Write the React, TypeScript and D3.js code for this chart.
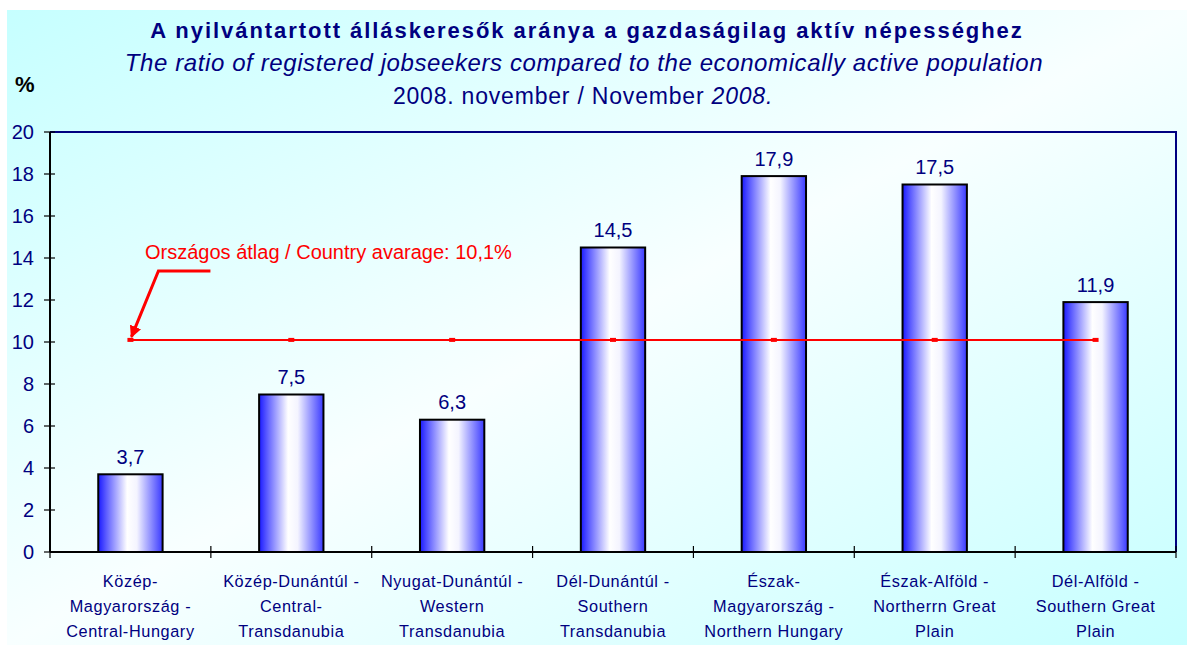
import React from "react";
import * as d3 from "d3";

const categoryLabels: string[][] = [
  ["Közép-", "Magyarország -", "Central-Hungary"],
  ["Közép-Dunántúl -", "Central-", "Transdanubia"],
  ["Nyugat-Dunántúl -", "Western", "Transdanubia"],
  ["Dél-Dunántúl -", "Southern", "Transdanubia"],
  ["Észak-", "Magyarország -", "Northern Hungary"],
  ["Észak-Alföld -", "Northerrn Great", "Plain"],
  ["Dél-Alföld -", "Southern Great", "Plain"],
];
const values: number[] = [3.7, 7.5, 6.3, 14.5, 17.9, 17.5, 11.9];
const countryAverage: number[] = [10.1, 10.1, 10.1, 10.1, 10.1, 10.1, 10.1];
const yTicks: number[] = [0, 2, 4, 6, 8, 10, 12, 14, 16, 18, 20];

const titleHu = "A nyilvántartott álláskeresők aránya a gazdaságilag aktív népességhez";
const titleEn = "The ratio of registered jobseekers compared to the economically active population";
const avgLabel = "Országos átlag / Country avarage: 10,1%";

const W = 1187;
const H = 645;
const plot = { left: 50, right: 1176, top: 132, bottom: 552 };
const NAVY = "#000080";
const FONT = "'Liberation Sans', Arial, sans-serif";

const fmt = (v: number) => v.toFixed(1).replace(".", ",");

export default function App() {
  const idx = values.map((_, i) => i);
  const x = d3
    .scaleBand<number>()
    .domain(idx)
    .range([plot.left, plot.right])
    .paddingInner(0.6)
    .paddingOuter(0.3);
  const band = d3.scaleBand<number>().domain(idx).range([plot.left, plot.right]);
  const y = d3.scaleLinear().domain([0, 20]).range([plot.bottom, plot.top]);

  const cx = (i: number) => (band(i) as number) + band.bandwidth() / 2;
  const avgLine = d3
    .line<number>()
    .x((_, i) => cx(i))
    .y((d) => y(d))(countryAverage) as string;

  const tipX = cx(0);
  const tipY = y(countryAverage[0]);

  return (
    <svg
      width={W}
      height={H}
      style={{ position: "absolute", left: 0, top: 0, fontFamily: FONT }}
    >
      <defs>
        <linearGradient id="bg" x1="0" y1="0" x2="1" y2="1">
          <stop offset="0" stopColor="#c6ffff" />
          <stop offset="0.5" stopColor="#f8ffff" />
          <stop offset="1" stopColor="#c6ffff" />
        </linearGradient>
        <linearGradient id="bar" x1="0" y1="0" x2="1" y2="0">
          <stop offset="0" stopColor="#1a1aff" />
          <stop offset="0.12" stopColor="#5a5aff" />
          <stop offset="0.45" stopColor="#ffffff" />
          <stop offset="0.6" stopColor="#f4f4ff" />
          <stop offset="1" stopColor="#3a3aff" />
        </linearGradient>
        <marker
          id="arrow"
          viewBox="0 0 10 10"
          refX="9"
          refY="5"
          markerWidth="4"
          markerHeight="4"
          orient="auto"
        >
          <path d="M0,0 L10,5 L0,10 z" fill="#ff0000" />
        </marker>
      </defs>
      <rect x={7} y={10} width={W - 7} height={H - 10} fill="url(#bg)" />

      {/* Titles */}
      <text
        x={587}
        y={38}
        textAnchor="middle"
        fontSize={22}
        fontWeight="bold"
        letterSpacing={1.95}
        fill={NAVY}
      >
        {titleHu}
      </text>
      <text
        x={584}
        y={71}
        textAnchor="middle"
        fontSize={24}
        fontStyle="italic"
        letterSpacing={0.6}
        fill={NAVY}
      >
        {titleEn}
      </text>
      <text x={583} y={104} textAnchor="middle" fontSize={23} letterSpacing={0.8} fill={NAVY}>
        2008. november / November <tspan fontStyle="italic">2008.</tspan>
      </text>
      <text x={15} y={92} fontSize={22} fontWeight="bold" fill="#000">
        %
      </text>

      {/* Plot frame (top and right) */}
      <path
        d={`M${plot.left},${plot.top} H${plot.right} V${plot.bottom}`}
        fill="none"
        stroke={NAVY}
        strokeWidth={2}
      />

      {/* Bars */}
      {values.map((v, i) => (
        <g key={i}>
          <rect
            x={x(i)}
            y={y(v)}
            width={x.bandwidth()}
            height={y(0) - y(v)}
            fill="url(#bar)"
            stroke="#000"
            strokeWidth={2}
          />
          <text
            x={cx(i)}
            y={y(v) - 10.5}
            textAnchor="middle"
            fontSize={20}
            fill={NAVY}
          >
            {fmt(v)}
          </text>
        </g>
      ))}

      {/* Y axis */}
      <line x1={plot.left} x2={plot.left} y1={plot.top} y2={plot.bottom} stroke="#000" strokeWidth={2} />
      {yTicks.map((t) => (
        <g key={t}>
          <line x1={plot.left - 6} x2={plot.left + 5} y1={y(t)} y2={y(t)} stroke="#000" strokeWidth={1.2} />
          <text
            x={34}
            y={y(t)}
            dy="0.36em"
            textAnchor="end"
            fontSize={20}
            fill={NAVY}
          >
            {t}
          </text>
        </g>
      ))}

      {/* X axis */}
      <line x1={plot.left} x2={plot.right} y1={plot.bottom} y2={plot.bottom} stroke="#000" strokeWidth={2} />
      {idx.concat([idx.length]).map((i) => {
        const xx = plot.left + i * band.bandwidth();
        return (
          <line key={i} x1={xx} x2={xx} y1={plot.bottom - 6} y2={plot.bottom + 6} stroke="#000" strokeWidth={1.2} />
        );
      })}
      {categoryLabels.map((lines, i) => (
        <text key={i} textAnchor="middle" fontSize={16.3} letterSpacing={0.6} fill={NAVY}>
          {lines.map((l, k) => (
            <tspan key={k} x={cx(i)} y={587 + k * 25}>
              {l}
            </tspan>
          ))}
        </text>
      ))}

      {/* Country average line */}
      <path d={avgLine} fill="none" stroke="#ff0000" strokeWidth={2} />
      {countryAverage.map((v, i) => (
        <rect key={i} x={cx(i) - 3} y={y(v) - 2} width={6} height={4} fill="#ff0000" />
      ))}

      {/* Annotation */}
      <text x={145} y={259} fontSize={20} fill="#ff0000">
        {avgLabel}
      </text>
      <path
        d={`M${tipX + 80},${tipY - 69} H${tipX + 28} L${tipX + 1},${tipY - 3}`}
        fill="none"
        stroke="#ff0000"
        strokeWidth={3}
        markerEnd="url(#arrow)"
      />
    </svg>
  );
}
